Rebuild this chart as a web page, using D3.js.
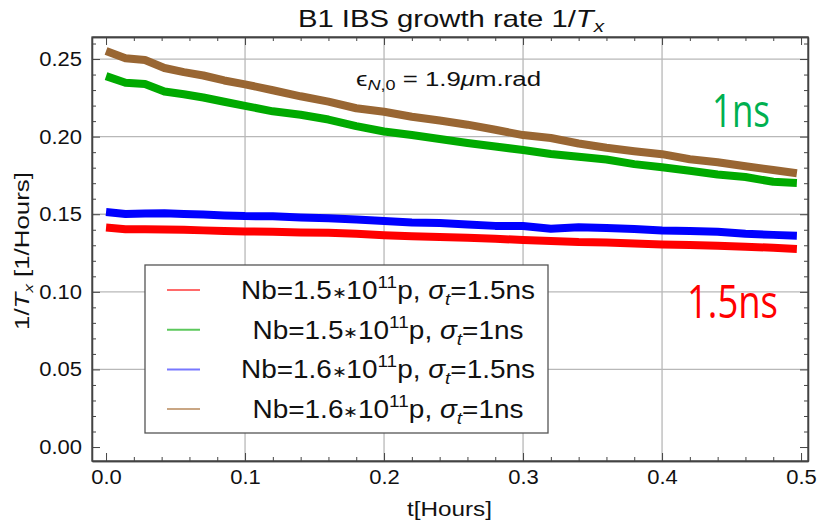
<!DOCTYPE html>
<html>
<head>
<meta charset="utf-8">
<script src="https://cdn.jsdelivr.net/npm/d3@7"></script>
<style>
  body { margin: 0; background: #fff; }
  svg text { font-family: "Liberation Sans", Arial, sans-serif; fill: #111; }
</style>
</head>
<body>
<svg id="view" width="819" height="520"></svg>
<script>
// time axis (hours) and the four IBS growth rate curves
var hours = [0, 0.014, 0.028, 0.042, 0.056, 0.07, 0.085, 0.1, 0.12, 0.14, 0.16, 0.18, 0.2, 0.22,
  0.24, 0.26, 0.28, 0.3, 0.32, 0.34, 0.36, 0.38, 0.4, 0.42, 0.44, 0.46, 0.48, 0.497];

var nb15_15ns = [0.1414, 0.1403, 0.1403, 0.1401, 0.1400, 0.1396, 0.1392, 0.1389, 0.1387, 0.1383,
  0.1381, 0.1374, 0.1365, 0.1358, 0.1353, 0.1349, 0.1342, 0.1334, 0.1328, 0.1321, 0.1318, 0.1311,
  0.1305, 0.1302, 0.1297, 0.1291, 0.1284, 0.1276];
var nb15_1ns = [0.2390, 0.2347, 0.2339, 0.2291, 0.2273, 0.2252, 0.2225, 0.2198, 0.2163, 0.2141,
  0.2110, 0.2068, 0.2033, 0.2010, 0.1985, 0.1959, 0.1936, 0.1914, 0.1888, 0.1871, 0.1853, 0.1823,
  0.1803, 0.1780, 0.1756, 0.1740, 0.1709, 0.1701];
var nb16_15ns = [0.1514, 0.1501, 0.1504, 0.1506, 0.1501, 0.1498, 0.1492, 0.1488, 0.1487, 0.1479,
  0.1474, 0.1466, 0.1456, 0.1446, 0.1443, 0.1434, 0.1425, 0.1424, 0.1406, 0.1416, 0.1411, 0.1405,
  0.1395, 0.1392, 0.1387, 0.1374, 0.1367, 0.1362];
var nb16_1ns = [0.2552, 0.2505, 0.2494, 0.2442, 0.2416, 0.2394, 0.2362, 0.2337, 0.2299, 0.2260,
  0.2226, 0.2183, 0.2160, 0.2128, 0.2104, 0.2077, 0.2044, 0.2010, 0.1991, 0.1956, 0.1928, 0.1906,
  0.1887, 0.1854, 0.1835, 0.1809, 0.1785, 0.1764];

var xTicks = [0, 0.1, 0.2, 0.3, 0.4, 0.5];
var yTicks = [0, 0.05, 0.1, 0.15, 0.2, 0.25];

var series = [
  { nb: '1.5', st: '1.5ns', values: nb15_15ns, color: '#ff0000', legendColor: '#ff6a6a', w: 294 },
  { nb: '1.5', st: '1ns', values: nb15_1ns, color: '#00aa00', legendColor: '#5cc85c', w: 271 },
  { nb: '1.6', st: '1.5ns', values: nb16_15ns, color: '#0000ff', legendColor: '#7878ff', w: 294 },
  { nb: '1.6', st: '1ns', values: nb16_1ns, color: '#996633', legendColor: '#c9a684', w: 271 }
];

var view = d3.select('svg#view');

// plot frame (note: "top" is taken by window.top, so prefix these)
var plotL = 92, plotR = 808, plotT = 37, plotB = 461;
var x = d3.scaleLinear().domain([-0.0101, 0.505]).range([plotL, plotR]);
var y = d3.scaleLinear().domain([-0.009, 0.2642]).range([plotB, plotT]);

// grid lines
var grid = view.append('g').attr('stroke', '#b8b8b8').attr('stroke-width', 1.3);
grid.selectAll('line.gx').data(xTicks.filter(function(d) { return d > 0 && d < 0.5; }))
  .enter().append('line')
  .attr('x1', function(d) { return x(d); }).attr('x2', function(d) { return x(d); })
  .attr('y1', plotT).attr('y2', plotB);
grid.selectAll('line.gy').data(yTicks.filter(function(d) { return d > 0; }))
  .enter().append('line')
  .attr('y1', function(d) { return y(d); }).attr('y2', function(d) { return y(d); })
  .attr('x1', plotL).attr('x2', plotR);

// curves
var line = d3.line()
  .x(function(d, i) { return x(hours[i]); })
  .y(function(d) { return y(d); });

view.append('g').selectAll('path').data(series).enter().append('path')
  .attr('d', function(s) { return line(s.values); })
  .attr('fill', 'none')
  .attr('stroke', function(s) { return s.color; })
  .attr('stroke-width', 8)
  .attr('stroke-linejoin', 'round');

// frame axes, ticks point inward
var minorX = d3.range(0, 0.51, 0.02).filter(function(d) { return Math.abs(d * 10 - Math.round(d * 10)) > 1e-6; });
var minorY = d3.range(0, 0.261, 0.01).filter(function(d) { return Math.abs(d * 20 - Math.round(d * 20)) > 1e-6; });

function styleAxis(g) {
  g.selectAll('path.domain').attr('stroke', '#444').attr('stroke-width', 1.3);
  g.selectAll('.tick line').attr('stroke', '#444').attr('stroke-width', 1);
  g.selectAll('.tick text').attr('fill', '#111').style('font-size', '20px')
    .style('font-family', '"Liberation Sans", Arial, sans-serif')
    .each(function() {
      // the labels in the original are a little wider than Arial
      var w = this.getComputedTextLength();
      if (w > 0) d3.select(this).attr('textLength', w * 1.1).attr('lengthAdjust', 'spacingAndGlyphs');
    });
}

view.append('g').attr('transform', 'translate(0,' + plotB + ')')
  .call(d3.axisBottom(x).tickValues(xTicks).tickFormat(d3.format('.1f')).tickSize(-8).tickSizeOuter(0).tickPadding(9))
  .call(styleAxis);
view.append('g').attr('transform', 'translate(0,' + plotB + ')')
  .call(d3.axisBottom(x).tickValues(minorX).tickFormat('').tickSize(-4).tickSizeOuter(0)).call(styleAxis);

view.append('g').attr('transform', 'translate(' + plotL + ',0)')
  .call(d3.axisLeft(y).tickValues(yTicks).tickFormat(d3.format('.2f')).tickSize(-8).tickSizeOuter(0).tickPadding(10))
  .call(styleAxis);
view.append('g').attr('transform', 'translate(' + plotL + ',0)')
  .call(d3.axisLeft(y).tickValues(minorY).tickFormat('').tickSize(-4).tickSizeOuter(0)).call(styleAxis);

view.append('g').attr('transform', 'translate(0,' + plotT + ')')
  .call(d3.axisTop(x).tickValues(xTicks).tickFormat('').tickSize(-8).tickSizeOuter(0)).call(styleAxis);
view.append('g').attr('transform', 'translate(0,' + plotT + ')')
  .call(d3.axisTop(x).tickValues(minorX).tickFormat('').tickSize(-4).tickSizeOuter(0)).call(styleAxis);
view.append('g').attr('transform', 'translate(' + plotR + ',0)')
  .call(d3.axisRight(y).tickValues(yTicks).tickFormat('').tickSize(-8).tickSizeOuter(0)).call(styleAxis);
view.append('g').attr('transform', 'translate(' + plotR + ',0)')
  .call(d3.axisRight(y).tickValues(minorY).tickFormat('').tickSize(-4).tickSizeOuter(0)).call(styleAxis);

view.append('rect').attr('x', plotL).attr('y', plotT).attr('width', plotR - plotL).attr('height', plotB - plotT)
  .attr('fill', 'none').attr('stroke', '#444').attr('stroke-width', 1.3);

// title
var title = view.append('text').attr('x', 298).attr('y', 27)
  .attr('textLength', 306).attr('lengthAdjust', 'spacingAndGlyphs').style('font-size', '24px');
title.append('tspan').text('B1 IBS growth rate 1/');
title.append('tspan').style('font-style', 'italic').text('T');
title.append('tspan').style('font-style', 'italic').style('font-size', '17px').attr('dy', 5).text('x');

// emittance note
var note = view.append('text').attr('x', 356).attr('y', 86)
  .attr('textLength', 185).attr('lengthAdjust', 'spacingAndGlyphs').style('font-size', '20px');
note.append('tspan').text('\u03f5');
note.append('tspan').style('font-size', '14px').style('font-style', 'italic').attr('dy', 4).text('N');
note.append('tspan').style('font-size', '14px').text(',0');
note.append('tspan').attr('dy', -4).text(' = 1.9');
note.append('tspan').style('font-style', 'italic').text('\u03bc');
note.append('tspan').text('m.rad');

// big bunch length labels
view.append('text').attr('x', 712).attr('y', 127).attr('textLength', 58).attr('lengthAdjust', 'spacingAndGlyphs')
  .style('font-family', '"Open Sans", sans-serif').style('font-size', '45px').style('fill', '#00b050').text('1ns');
view.append('text').attr('x', 687).attr('y', 318).attr('textLength', 91).attr('lengthAdjust', 'spacingAndGlyphs')
  .style('font-family', '"Open Sans", sans-serif').style('font-size', '45px').style('fill', '#ff0000').text('1.5ns');

// axis labels
var yl = view.append('text').attr('transform', 'translate(29,330) rotate(-90)')
  .attr('textLength', 158).attr('lengthAdjust', 'spacingAndGlyphs').style('font-size', '20px');
yl.append('tspan').text('1/');
yl.append('tspan').style('font-style', 'italic').text('T');
yl.append('tspan').style('font-style', 'italic').style('font-size', '13px').attr('dy', 4).text('x');
yl.append('tspan').attr('dy', -4).text(' [1/Hours]');

view.append('text').attr('x', 407).attr('y', 516).attr('textLength', 85).attr('lengthAdjust', 'spacingAndGlyphs')
  .style('font-size', '20px').text('t[Hours]');

// legend
var lg = view.append('g');
lg.append('rect').attr('x', 145).attr('y', 265).attr('width', 403).attr('height', 168)
  .attr('fill', '#fff').attr('stroke', '#555').attr('stroke-width', 1.3);

var rows = lg.selectAll('g.row').data(series).enter().append('g')
  .attr('transform', function(d, i) { return 'translate(0,' + (290 + i * 39.7) + ')'; });
rows.append('line').attr('x1', 167).attr('x2', 200).attr('y1', 0).attr('y2', 0)
  .attr('stroke', function(d) { return d.legendColor; }).attr('stroke-width', 2);
var lt = rows.append('text').attr('x', function(d) { return 388 - d.w / 2; }).attr('y', 9)
  .attr('textLength', function(d) { return d.w; }).attr('lengthAdjust', 'spacingAndGlyphs')
  .style('font-size', '25px');
lt.append('tspan').text(function(d) { return 'Nb=' + d.nb; });
lt.append('tspan').style('font-size', '16px').attr('dy', -1).text('\u2217');
lt.append('tspan').attr('dy', 1).text('10');
lt.append('tspan').style('font-size', '17px').attr('dy', -11).text('11');
lt.append('tspan').attr('dy', 11).text('p, ');
lt.append('tspan').style('font-style', 'italic').text('\u03c3');
lt.append('tspan').style('font-style', 'italic').style('font-size', '17px').attr('dy', 6).text('t');
lt.append('tspan').attr('dy', -6).text(function(d) { return '=' + d.st; });
</script>
</body>
</html>
